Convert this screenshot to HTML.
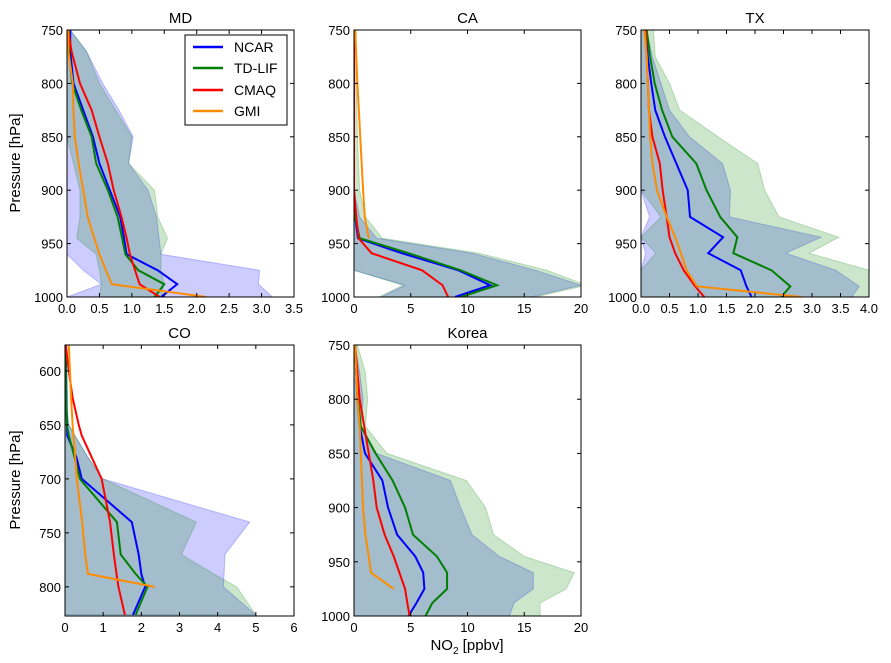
<!DOCTYPE html>
<html><head><meta charset="utf-8"><style>
body{margin:0;background:#fff;}
svg text{font-family:"Liberation Sans",sans-serif;fill:#000;}
</style></head><body>
<svg id="fig" width="891" height="663" xmlns="http://www.w3.org/2000/svg"></svg>
<script>
// ---- MD ----
const mdLevels=[750,770,800,825,850,875,900,925,945,960,975,988,1000];
const mdNCAR=[0.05,0.05,0.1,0.25,0.4,0.5,0.66,0.82,0.88,0.92,1.4,1.7,1.45];
const mdTDLIF=[0.03,0.03,0.08,0.22,0.38,0.45,0.63,0.78,0.85,0.9,1.1,1.5,1.35];
const mdCMAQ=[0.02,0.07,0.2,0.38,0.5,0.63,0.72,0.84,0.92,0.97,1.05,1.12,1.43];
const mdGMI=[0.02,0.02,0.09,0.1,0.12,0.18,0.25,0.32,0.42,0.5,0.6,0.69,2.15];
const mdNCARlo=[0,0,0,0,0,0,0,0,0,0,0.25,0.53,0];
const mdNCARhi=[0.05,0.3,0.55,0.8,1.02,0.95,1.25,1.38,1.42,1.45,2.97,2.95,3.17];
const mdTDLIFlo=[0,0,0,0,0,0.1,0.2,0.2,0.15,0.45,0.5,0.53,0.5];
const mdTDLIFhi=[0.05,0.3,0.5,0.75,1.0,0.95,1.35,1.4,1.55,1.45,1.45,1.5,1.45];
// ---- CA ----
const caLevels=[750,800,850,900,925,945,959,975,989,1000];
const caNCAR=[0,0,0,0,0.1,0.35,4.2,9.2,12,8.9];
const caTDLIF=[0,0,0,0,0.1,0.5,4.8,9.4,12.6,9.4];
const caCMAQ=[0,0,0,0,0.2,0.4,1.55,6,7.8,8.3];
const caGMI=[0.1,0.3,0.55,0.8,0.95,1.3,null,null,null,null];
const caNCARlo=[0,0,0,0,0,0,0,0,4.5,2.4];
const caNCARhi=[0,0,0,0,0.5,2,10.4,16,20,15.6];
const caTDLIFlo=[0,0,0,0,0,0,0,0,4.3,2.2];
const caTDLIFhi=[0.2,0.2,0.3,0.5,1,2.5,11,17,20.5,16];
// ---- TX ----
const txLevels=[750,775,800,825,850,875,900,925,944,959,975,990,1000];
const txNCAR=[0.08,0.12,0.18,0.25,0.42,0.62,0.82,0.86,1.44,1.18,1.75,1.85,1.94];
const txTDLIF=[0.1,0.16,0.24,0.37,0.55,0.97,1.15,1.39,1.69,1.62,2.29,2.62,2.46];
const txCMAQ=[0.08,0.1,0.12,0.14,0.2,0.33,0.38,0.45,0.5,0.6,0.75,0.95,1.11];
const txGMI=[0.06,0.1,0.12,0.14,0.16,0.2,0.28,0.45,0.6,0.7,0.8,0.98,2.82];
const txNCARlo=[0,0,0,0,0,0,0,0.15,0,0.08,0,0,0];
const txNCARhi=[0.1,0.2,0.35,0.5,0.85,1.43,1.57,1.55,3.16,2.54,3.42,3.83,3.7];
const txTDLIFlo=[0,0,0,0,0,0,0,0.35,0,0.26,0,0,0];
const txTDLIFhi=[0.22,0.25,0.5,0.68,1.35,2.05,2.17,2.42,3.47,2.95,4.0,4.0,4.0];
// ---- CO ----
const coLevels=[576,600,625,650,660,680,700,740,770,788,800,826];
const coNCAR=[0.02,0.03,0.04,0.05,0.06,0.3,0.44,1.75,1.93,2.0,2.1,1.78];
const coTDLIF=[0.01,0.02,0.03,0.05,0.1,0.25,0.39,1.36,1.46,1.85,2.16,1.85];
const coCMAQ=[0.02,0.1,0.2,0.36,0.44,0.7,0.96,1.18,1.28,1.35,1.4,1.57];
const coGMI=[0.1,0.13,0.16,0.2,0.22,0.27,0.31,0.45,0.53,0.6,2.35,null];
const coNCARlo=[0,0,0,0,0,0,0,0,0,0,0,0];
const coNCARhi=[0,0,0.02,0.1,0.26,0.6,0.99,4.84,4.19,4.17,4.15,5.0];
const coTDLIFlo=[0,0,0,0,0,0,0,0,0,0,0,0];
const coTDLIFhi=[0,0,0.02,0.1,0.26,0.6,0.99,3.44,3.05,3.9,4.5,5.0];
// ---- Korea ----
const krLevels=[750,775,800,825,850,875,900,925,945,960,975,988,1000];
const krNCAR=[0.1,0.2,0.3,0.5,0.97,2.5,3.0,3.8,5.4,6.1,6.2,5.5,4.8];
const krTDLIF=[0.1,0.2,0.35,0.6,1.9,3.4,4.5,5.2,7.3,8.2,8.2,6.9,6.3];
const krCMAQ=[0.1,0.3,0.5,0.9,1.3,1.7,2.0,2.7,3.5,4.0,4.5,4.7,4.9];
const krGMI=[0.1,0.2,0.3,0.5,0.6,0.7,0.8,1.0,1.3,1.5,3.5,null,null];
const krNCARlo=[0,0,0,0,0,0,0,0,0,0,0,0,0];
const krNCARhi=[0.1,0.5,0.8,0.6,2.0,8.5,9.4,10.4,12.8,15.8,15.8,14.1,13.7];
const krTDLIFlo=[0,0,0,0,0,0,0,0,0,0,0,0,0];
const krTDLIFhi=[0.3,1.0,1.2,1.0,2.9,9.9,11.6,12.3,15,19.4,18.7,16.4,16.4];
// tick labels
const mdXTicks=["0.0","0.5","1.0","1.5","2.0","2.5","3.0","3.5"];
const txXTicks=["0.0","0.5","1.0","1.5","2.0","2.5","3.0","3.5","4.0"];
const caXTicks=["0","5","10","15","20"];
const coXTicks=["0","1","2","3","4","5","6"];
const pYTicks=["750","800","850","900","950","1000"];
const coYTicks=["600","650","700","750","800"];

const NS="http://www.w3.org/2000/svg";
const svg=document.getElementById('fig');
function mk(tag,attrs,parent){const e=document.createElementNS(NS,tag);for(const k in attrs)e.setAttribute(k,attrs[k]);(parent||svg).appendChild(e);return e;}

function panel(cfg){
  const {id,title,L,R,T,B,xmin,xmax,pmin,pmax,xt,yt,lev,s}=cfg;
  const g=mk('g',{});
  
  
  const X=v=>L+(v-xmin)/(xmax-xmin)*(R-L);
  const Y=p=>T+(p-pmin)/(pmax-pmin)*(B-T);
  const cp=mk('clipPath',{id:'c'+id},g);mk('rect',{x:L,y:T,width:R-L,height:B-T},cp);
  const dg=mk('g',{'clip-path':'url(#c'+id+')'},g);
  function band(lo,hi,col,name){
    let pts=[];
    lev.forEach((p,i)=>pts.push(X(hi[i])+','+Y(p)));
    for(let i=lev.length-1;i>=0;i--)pts.push(X(lo[i])+','+Y(lev[i]));
    const e=mk('polygon',{points:pts.join(' '),fill:col,'fill-opacity':0.2,stroke:col,'stroke-opacity':0.22},dg);
    
    
  }
  function line(v,col,name){
    let pts=[];
    lev.forEach((p,i)=>{if(v[i]!==null&&v[i]!==undefined)pts.push(X(v[i])+','+Y(p));});
    const e=mk('polyline',{points:pts.join(' '),fill:'none',stroke:col,'stroke-width':2,'stroke-linejoin':'miter'},dg);
    
    
  }
  band(s.nlo,s.nhi,'#0000ff',id+'-ncar-range');
  band(s.tlo,s.thi,'#008000',id+'-tdlif-range');
  line(s.n,'#0000ff',id+'-ncar-line');
  line(s.t,'#007f00',id+'-tdlif-line');
  line(s.c,'#ff0000',id+'-cmaq-line');
  line(s.g,'#ff8c00',id+'-gmi-line');
  mk('rect',{x:L,y:T,width:R-L,height:B-T,fill:'none',stroke:'#000','stroke-width':1},g);
  xt.forEach(lab=>{const v=parseFloat(lab),x=X(v);
    mk('line',{x1:x,x2:x,y1:B,y2:B-4,stroke:'#000'},g);mk('line',{x1:x,x2:x,y1:T,y2:T+4,stroke:'#000'},g);
    const t=mk('text',{x:x,y:B+16,'text-anchor':'middle','font-size':13},g);t.textContent=lab;
    
    });
  yt.forEach(lab=>{const v=parseFloat(lab),y=Y(v);
    mk('line',{x1:L,x2:L+4,y1:y,y2:y,stroke:'#000'},g);mk('line',{x1:R,x2:R-4,y1:y,y2:y,stroke:'#000'},g);
    const t=mk('text',{x:L-4,y:y+5,'text-anchor':'end','font-size':13},g);t.textContent=lab;
    
    });
  const tt=mk('text',{x:(L+R)/2,y:T-7,'text-anchor':'middle','font-size':15},g);tt.textContent=title;
  
  
}
panel({id:'md',title:'MD',L:67,R:294,T:30,B:297,xmin:0,xmax:3.5,pmin:750,pmax:1000,xt:mdXTicks,yt:pYTicks,lev:mdLevels,
  s:{n:mdNCAR,t:mdTDLIF,c:mdCMAQ,g:mdGMI,nlo:mdNCARlo,nhi:mdNCARhi,tlo:mdTDLIFlo,thi:mdTDLIFhi}});
panel({id:'ca',title:'CA',L:354,R:581,T:30,B:297,xmin:0,xmax:20,pmin:750,pmax:1000,xt:caXTicks,yt:pYTicks,lev:caLevels,
  s:{n:caNCAR,t:caTDLIF,c:caCMAQ,g:caGMI,nlo:caNCARlo,nhi:caNCARhi,tlo:caTDLIFlo,thi:caTDLIFhi}});
panel({id:'tx',title:'TX',L:641,R:869,T:30,B:297,xmin:0,xmax:4,pmin:750,pmax:1000,xt:txXTicks,yt:pYTicks,lev:txLevels,
  s:{n:txNCAR,t:txTDLIF,c:txCMAQ,g:txGMI,nlo:txNCARlo,nhi:txNCARhi,tlo:txTDLIFlo,thi:txTDLIFhi}});
panel({id:'co',title:'CO',L:65,R:294,T:345,B:616,xmin:0,xmax:6,pmin:576,pmax:827,xt:coXTicks,yt:coYTicks,lev:coLevels,
  s:{n:coNCAR,t:coTDLIF,c:coCMAQ,g:coGMI,nlo:coNCARlo,nhi:coNCARhi,tlo:coTDLIFlo,thi:coTDLIFhi}});
panel({id:'kr',title:'Korea',L:354,R:581,T:345,B:616,xmin:0,xmax:20,pmin:750,pmax:1000,xt:caXTicks,yt:pYTicks,lev:krLevels,
  s:{n:krNCAR,t:krTDLIF,c:krCMAQ,g:krGMI,nlo:krNCARlo,nhi:krNCARhi,tlo:krTDLIFlo,thi:krTDLIFhi}});
</script>
<svg width="891" height="663" style="position:absolute;left:0;top:0;pointer-events:none" xmlns="http://www.w3.org/2000/svg">
  <text x="20" y="163" transform="rotate(-90 20 163)" text-anchor="middle" font-size="15">Pressure [hPa]</text>
  <text x="20" y="480" transform="rotate(-90 20 480)" text-anchor="middle" font-size="15">Pressure [hPa]</text>
  <text x="467" y="650" text-anchor="middle" font-size="15">NO<tspan font-size="10" dy="4">2</tspan><tspan dy="-4"> [ppbv]</tspan></text>
  <g>
    <rect x="185" y="35" width="102" height="90" fill="#fff" stroke="#000" stroke-width="1"/>
    <line x1="193" x2="223" y1="47" y2="47" stroke="#0000ff" stroke-width="2.5"/>
    <text x="234" y="52" font-size="14">NCAR</text>
    <line x1="193" x2="223" y1="68" y2="68" stroke="#007f00" stroke-width="2.5"/>
    <text x="234" y="73" font-size="14">TD-LIF</text>
    <line x1="193" x2="223" y1="90" y2="90" stroke="#ff0000" stroke-width="2.5"/>
    <text x="234" y="95" font-size="14">CMAQ</text>
    <line x1="193" x2="223" y1="111" y2="111" stroke="#ff8c00" stroke-width="2.5"/>
    <text x="234" y="116" font-size="14">GMI</text>
  </g>
</svg>
<style>svg{position:absolute;left:0;top:0}</style>
</body></html>
